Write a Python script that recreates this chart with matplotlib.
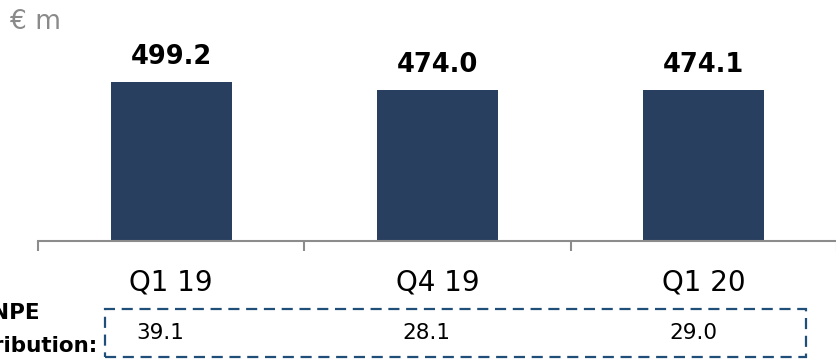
import matplotlib
matplotlib.use("Agg")
import matplotlib.pyplot as plt
from matplotlib.patches import Rectangle
import matplotlib.transforms as mtransforms

categories = ["Q1 19", "Q4 19", "Q1 20"]
values = [499.2, 474.0, 474.1]
value_labels = ["499.2", "474.0", "474.1"]
npe_values = ["39.1", "28.1", "29.0"]

BAR_COLOR = "#283f5f"
AXIS_COLOR = "#8c8c8c"
BOX_COLOR = "#1f4e79"

fig = plt.figure(figsize=(8.36, 3.6), dpi=100)
W, H = 836, 360
ax = fig.add_axes([38 / W, 119 / H, 799 / W, 223 / H])

x = list(range(len(categories)))
ax.bar(x, values, width=0.454, color=BAR_COLOR, zorder=2)
ax.set_xlim(-0.5, len(categories) - 0.5)
ax.set_ylim(0, 700)

for xi, v, lab in zip(x, values, value_labels):
    ax.annotate(lab, (xi, v), xytext=(0, 18), textcoords="offset points",
                ha="center", va="center", fontsize=18.5, fontweight="bold",
                color="black")

for s in ["top", "right", "left"]:
    ax.spines[s].set_visible(False)
ax.spines["bottom"].set_color(AXIS_COLOR)
ax.spines["bottom"].set_linewidth(1.5)
ax.set_yticks([])

ax.set_xticks([i - 0.5 for i in range(len(categories) + 1)], minor=False)
ax.set_xticklabels([])
ax.tick_params(axis="x", which="major", direction="out", length=7.5, width=1.5,
               color=AXIS_COLOR)
ax.set_xticks(x, minor=True)
ax.set_xticklabels(categories, minor=True)
ax.tick_params(axis="x", which="minor", length=0, pad=20, labelsize=20,
               labelcolor="black")

# unit label
fig.text(10 / W, 1 - 22 / H, "€ m", fontsize=19, color="#8a8a8a",
         ha="left", va="center")

# NPE contribution label (cut at figure edge, as in the reference)
fig.text(40 / W, 1 - 313 / H, "NPE", fontsize=15.5, fontweight="bold",
         ha="right", va="center")
fig.text(97 / W, 1 - 346 / H, "contribution:", fontsize=15.5,
         fontweight="bold", ha="right", va="center")

# dashed box
box = Rectangle((105 / W, 1 - 357 / H), (806 - 105) / W, (357 - 309) / H,
                transform=fig.transFigure, fill=False, edgecolor=BOX_COLOR,
                linewidth=1.6, linestyle=(0, (5, 3)))
fig.add_artist(box)

trans = mtransforms.blended_transform_factory(ax.transData, fig.transFigure)
for xi, t in zip(x, npe_values):
    ax.text(xi - 0.04, 1 - 333 / H, t, transform=trans, fontsize=15.5,
            ha="center", va="center", color="black", clip_on=False)

fig.savefig("out.png", dpi=100)
